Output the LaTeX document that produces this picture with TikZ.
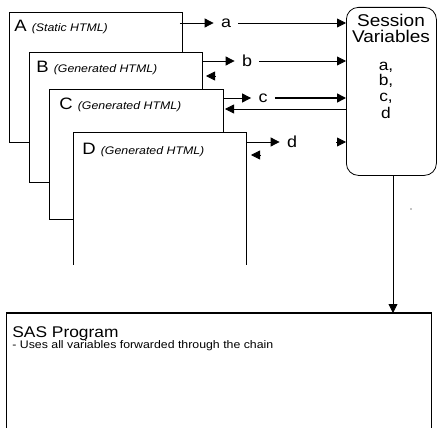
\documentclass[tikz,border=0pt]{standalone}
\usepackage{fontspec}
\setmainfont[FakeStretch=1.12]{Liberation Sans}
\usetikzlibrary{arrows.meta,positioning,calc}

\tikzset{
    page/.style={draw, fill=white, anchor=north west, inner sep=0pt, minimum width=173pt, minimum height=130pt},
    tip/.style={-{Triangle[length=9pt,width=9pt]}},
    varlabel/.style={inner xsep=7pt, inner ysep=0pt, font=\fontsize{16}{16}\selectfont},
    pagelabel/.style={anchor=base west, inner sep=0pt, font=\fontsize{16.5}{16.5}\selectfont},
}
\newcommand{\htmlnote}[1]{\fontsize{11}{11}\selectfont\itshape (#1)}

\begin{document}
\begin{tikzpicture}[x=1pt, y=-1pt, line width=0.8pt]
    \useasboundingbox (0,0) rectangle (437,428);

    % stacked pages
    \node[page] (pA) at (9,12) {};
    \node[page] (pB) at (29,52) {};
    \node[page, minimum width=174pt] (pC) at (49,89) {};
    \node[page, draw=none, minimum height=132pt] (pD) at (73,132) {};
    \draw (pD.south west) -- (pD.north west) -- (pD.north east) -- (pD.south east);

    \node[pagelabel] (tA) at (14,32) {A \htmlnote{Static HTML}};
    \node[pagelabel] (tB) at (36,73) {B \htmlnote{Generated HTML}};
    \node[pagelabel] (tC) at (59,110) {C \htmlnote{Generated HTML}};
    \node[pagelabel] (tD) at (82,154) {D \htmlnote{Generated HTML}};

    % session store
    \node[draw, rounded corners=12pt, anchor=north west, minimum width=90pt, minimum height=168pt] (sv) at (346,7) {};
    \node[anchor=base, align=center, inner sep=0pt, font=\fontsize{17}{16}\selectfont] (svt) at (391,43) {Session\\Variables};
    \node[anchor=base, align=center, inner sep=0pt, font=\fontsize{15.5}{16}\selectfont] (svl) at (386,118) {a,\\b,\\c,\\d};

    % variables passed on
    \node[varlabel] (la) at (226,23) {a};
    \node[varlabel] (lb) at (247,61) {b};
    \node[varlabel] (lc) at (263,98) {c};
    \node[varlabel] (ld) at (292,142) {d};

    \draw[tip] ($(pA.north east |- la)+(-3,0)$) -- (la.west);
    \draw[tip] (la.east) -- (sv.west |- la);

    \draw[tip] (pB.north east |- lb) -- (lb.west);
    \draw[tip] (lb.east) -- (sv.west |- lb);
    \draw[tip] (215,76) -- (206,76);

    \draw[tip] (pC.north east |- lc) -- (lc.west);
    \draw[tip, line width=1.6pt] (lc.east) -- (sv.west |- lc);
    \draw[tip] (sv.west |- 0,109) -- (225,109);

    \draw[tip] (pD.north east |- ld) -- (ld.west);
    \draw[tip] ($(sv.west |- ld)+(-10,0)$) -- (sv.west |- ld);
    \draw[tip] (260,155) -- (251,155);

    \fill (411,209) circle (0.6);

    % program
    \node[anchor=north west, inner sep=0pt, minimum width=425pt, minimum height=115pt] (sas) at (6,313) {};
    \draw (sas.south west) -- (sas.north west);
    \draw (sas.north east) -- (sas.south east);
    \draw[line width=1.4pt] (sas.north west) -- (sas.north east);
    \draw[tip] (sv.south -| 393,0) -- (sas.north -| 393,0);

    \node[anchor=base west, inner sep=0pt, font=\fontsize{15.5}{15.5}\selectfont] (sasT) at (12,337) {SAS Program};
    \node[anchor=base west, inner sep=0pt, font=\fontsize{11}{11}\selectfont] (sasD) at (12,348) {- Uses all variables forwarded through the chain};
\end{tikzpicture}
\end{document}
